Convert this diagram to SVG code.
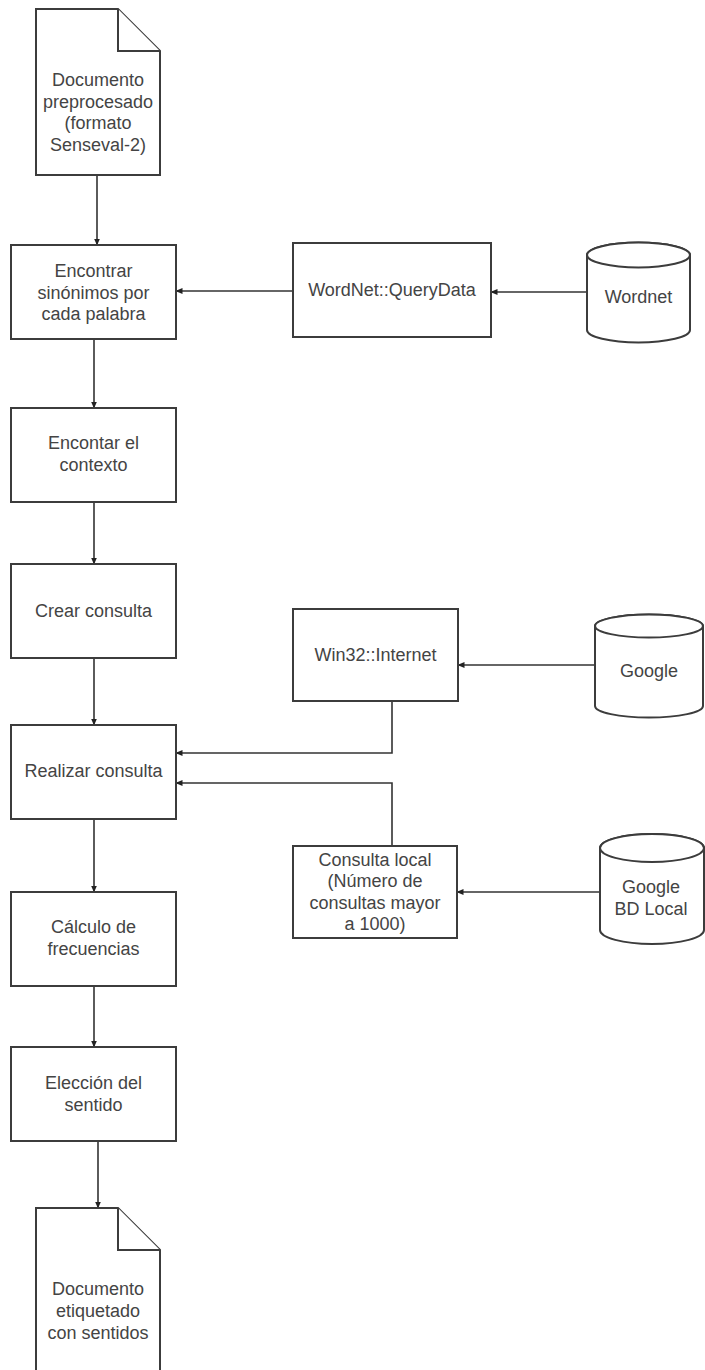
<svg xmlns="http://www.w3.org/2000/svg" width="705" height="1370" viewBox="0 0 705 1370">
  <defs>
    <marker id="arrow" markerWidth="7" markerHeight="6" refX="6.5" refY="3" orient="auto" markerUnits="userSpaceOnUse">
      <path d="M0,0 L7,3 L0,6 Z" fill="#222"/>
    </marker>
  </defs>
  <style>
    .shape { fill: #ffffff; stroke: #3c3c3c; stroke-width: 2; }
    .edge { fill: none; stroke: #333333; stroke-width: 1.6; marker-end: url(#arrow); }
    .label { font-family: "Liberation Sans", Arial, sans-serif; font-size: 18px; fill: #444444; text-anchor: middle; dominant-baseline: central; }
  </style>
  <rect x="0" y="0" width="705" height="1370" fill="#ffffff"/>

  <!-- connectors -->
  <g id="connectors">
    <line class="edge" x1="97" y1="175" x2="97" y2="245"/>
    <line class="edge" x1="94" y1="339" x2="94" y2="408"/>
    <line class="edge" x1="94" y1="502" x2="94" y2="564"/>
    <line class="edge" x1="94" y1="658" x2="94" y2="725"/>
    <line class="edge" x1="94" y1="819" x2="94" y2="892"/>
    <line class="edge" x1="94" y1="986" x2="94" y2="1047"/>
    <line class="edge" x1="98" y1="1141" x2="98" y2="1208"/>
    <line class="edge" x1="293" y1="291" x2="176" y2="291"/>
    <line class="edge" x1="587" y1="292" x2="491" y2="292"/>
    <line class="edge" x1="595" y1="665" x2="458" y2="665"/>
    <polyline class="edge" points="392,701 392,753 176,753"/>
    <polyline class="edge" points="392,846 392,783 176,783"/>
    <line class="edge" x1="600" y1="892" x2="457" y2="892"/>
  </g>

  <!-- input document -->
  <g id="doc-input">
    <path class="shape" d="M36,9 H118 L160,51 V175 H36 Z"/>
    <path class="shape" d="M118,9 V51 H160" fill="none"/>
    <text class="label" x="98" y="80">Documento</text>
    <text class="label" x="98" y="102">preprocesado</text>
    <text class="label" x="98" y="123">(formato</text>
    <text class="label" x="98" y="145">Senseval-2)</text>
  </g>

  <g id="find-synonyms">
    <rect class="shape" x="11" y="245" width="165" height="94"/>
    <text class="label" x="93.5" y="271">Encontrar</text>
    <text class="label" x="93.5" y="293">sinónimos por</text>
    <text class="label" x="93.5" y="314">cada palabra</text>
  </g>

  <g id="find-context">
    <rect class="shape" x="11" y="408" width="165" height="94"/>
    <text class="label" x="93.5" y="443">Encontar el</text>
    <text class="label" x="93.5" y="465">contexto</text>
  </g>

  <g id="create-query">
    <rect class="shape" x="11" y="564" width="165" height="94"/>
    <text class="label" x="93.5" y="611">Crear consulta</text>
  </g>

  <g id="run-query">
    <rect class="shape" x="11" y="725" width="165" height="94"/>
    <text class="label" x="93.5" y="771">Realizar consulta</text>
  </g>

  <g id="frequencies">
    <rect class="shape" x="11" y="892" width="165" height="94"/>
    <text class="label" x="93.5" y="927">Cálculo de</text>
    <text class="label" x="93.5" y="949">frecuencias</text>
  </g>

  <g id="choose-sense">
    <rect class="shape" x="11" y="1047" width="165" height="94"/>
    <text class="label" x="93.5" y="1083">Elección del</text>
    <text class="label" x="93.5" y="1105">sentido</text>
  </g>

  <!-- output document -->
  <g id="doc-output">
    <path class="shape" d="M36,1208 H118 L160,1250 V1374 H36 Z"/>
    <path class="shape" d="M118,1208 V1250 H160" fill="none"/>
    <text class="label" x="98" y="1289">Documento</text>
    <text class="label" x="98" y="1311">etiquetado</text>
    <text class="label" x="98" y="1333">con sentidos</text>
  </g>

  <g id="wordnet-querydata">
    <rect class="shape" x="293" y="243" width="198" height="94"/>
    <text class="label" x="392" y="290">WordNet::QueryData</text>
  </g>

  <g id="wordnet-db">
    <path class="shape" d="M587,255 A51.5,12.5 0 0 1 690,255 V330 A51.5,12.5 0 0 1 587,330 Z"/>
    <ellipse class="shape" cx="638.5" cy="255" rx="51.5" ry="12.5"/>
    <text class="label" x="638.5" y="297">Wordnet</text>
  </g>

  <g id="win32-internet">
    <rect class="shape" x="293" y="609" width="165" height="92"/>
    <text class="label" x="375.5" y="655">Win32::Internet</text>
  </g>

  <g id="google-db">
    <path class="shape" d="M595,626 A54,11.5 0 0 1 703,626 V706 A54,11.5 0 0 1 595,706 Z"/>
    <ellipse class="shape" cx="649" cy="626" rx="54" ry="11.5"/>
    <text class="label" x="649" y="671">Google</text>
  </g>

  <g id="local-query">
    <rect class="shape" x="293" y="846" width="164" height="92"/>
    <text class="label" x="375" y="860">Consulta local</text>
    <text class="label" x="375" y="881">(Número de</text>
    <text class="label" x="375" y="903">consultas mayor</text>
    <text class="label" x="375" y="924">a 1000)</text>
  </g>

  <g id="google-local-db">
    <path class="shape" d="M600,848 A52,14 0 0 1 704,848 V930 A52,14 0 0 1 600,930 Z"/>
    <ellipse class="shape" cx="652" cy="848" rx="52" ry="14"/>
    <text class="label" x="651" y="887">Google</text>
    <text class="label" x="651" y="909">BD Local</text>
  </g>
</svg>
